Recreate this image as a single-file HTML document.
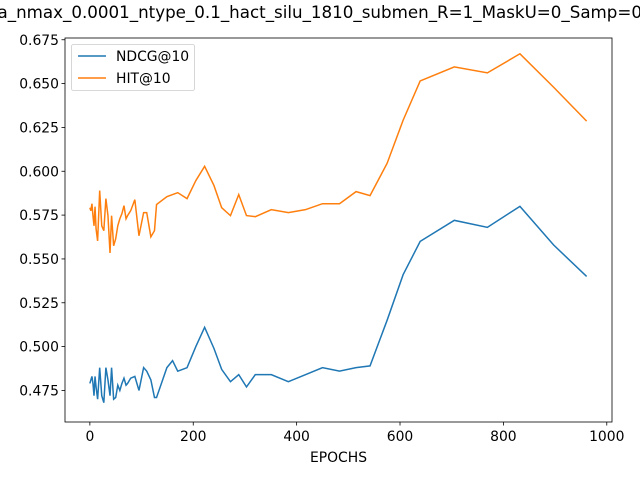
<!DOCTYPE html>
<html><head><meta charset="utf-8"><style>body{margin:0;background:#fff}svg{display:block;font-family:"DejaVu Sans","Liberation Sans",sans-serif}</style></head>
<body>
<svg id="c" width="640" height="480"></svg>
<script>
const epochs=[0,2,4,6,8,10,12,15,19,23,27,31,35,39,42,46,50,54,58,62,66,70,73,79,87,95,104,110,118,125,129,149,160,170,188,205,222,240,255,272,288,303,320,351,384,417,450,483,515,542,575,606,639,705,769,832,897,961];
const hitValues=[0.5792,0.5775,0.5815,0.5747,0.5689,0.5798,0.5672,0.5603,0.5890,0.5689,0.5661,0.5844,0.5747,0.5534,0.5747,0.5575,0.5615,0.5689,0.5729,0.5758,0.5804,0.5729,0.5747,0.5775,0.5838,0.5632,0.5764,0.5764,0.5626,0.5661,0.5810,0.5855,0.5867,0.5878,0.5844,0.5947,0.6028,0.5919,0.5792,0.5747,0.5867,0.5747,0.5741,0.5781,0.5764,0.5781,0.5815,0.5815,0.5884,0.5861,0.6045,0.6291,0.6515,0.6595,0.6561,0.6670,0.6480,0.6286];
const ndcgValues=[0.479,0.481,0.483,0.479,0.472,0.483,0.477,0.470,0.488,0.472,0.468,0.488,0.481,0.472,0.488,0.470,0.471,0.478,0.475,0.479,0.482,0.478,0.479,0.482,0.483,0.475,0.488,0.486,0.481,0.471,0.471,0.488,0.492,0.486,0.488,0.500,0.511,0.499,0.487,0.480,0.484,0.477,0.484,0.484,0.480,0.484,0.488,0.486,0.488,0.489,0.515,0.541,0.560,0.572,0.568,0.580,0.558,0.540];
const xTicks=[0,200,400,600,800,1000];
const yTicks=[0.475,0.500,0.525,0.550,0.575,0.600,0.625,0.650,0.675];
const L=65,R=612,T=38,B=422;
const xmin=-48.1,xmax=1010.1,ymin=0.457,ymax=0.676;
const X=v=>L+(v-xmin)/(xmax-xmin)*(R-L);
const Y=v=>B-(v-ymin)/(ymax-ymin)*(B-T);
const s=document.getElementById('c');const NS='http://www.w3.org/2000/svg';
function el(t,a,p){const e=document.createElementNS(NS,t);for(const k in a)e.setAttribute(k,a[k]);(p||s).appendChild(e);return e;}
let t=el('text',{x:642,y:18,'font-size':16.7,fill:'#000','text-anchor':'end'});


t.textContent='a_nmax_0.0001_ntype_0.1_hact_silu_1810_submen_R=1_MaskU=0_Samp=0';
xTicks.forEach(v=>{const g=el('g',{});


el('line',{x1:X(v),x2:X(v),y1:B,y2:B+3.5,stroke:'#000','stroke-width':0.8},g);
const tx=el('text',{x:X(v),y:B+19,'font-size':13.9,'text-anchor':'middle'},g);tx.textContent=v;});
yTicks.forEach(v=>{const g=el('g',{});


el('line',{x1:L-3.5,x2:L,y1:Y(v),y2:Y(v),stroke:'#000','stroke-width':0.8},g);
const tx=el('text',{x:L-6,y:Y(v)+5,'font-size':13.9,'text-anchor':'end'},g);tx.textContent=v.toFixed(3);});
let xl=el('text',{x:(L+R)/2,y:462,'font-size':13.9,'text-anchor':'middle'});


xl.textContent='EPOCHS';
function line(vals,col,name){const p=el('polyline',{points:epochs.map((e,i)=>X(e)+','+Y(vals[i])).join(' '),fill:'none',stroke:col,'stroke-width':1.5});

}
line(ndcgValues,'#1f77b4','ndcg-line');
line(hitValues,'#ff7f0e','hit-line');
let fr=el('rect',{x:L,y:T,width:R-L,height:B-T,fill:'none',stroke:'#000','stroke-width':0.8});


const lg=el('g',{});


el('rect',{x:71.5,y:44.5,width:123,height:46,rx:2,fill:'#fff',stroke:'#ccc','stroke-width':0.8},lg);
[['NDCG@10','#1f77b4',56],['HIT@10','#ff7f0e',78]].forEach(([n,c,y])=>{const g=el('g',{},lg);


el('line',{x1:78,x2:106,y1:y,y2:y,stroke:c,'stroke-width':1.5},g);
const tx=el('text',{x:116,y:y+5,'font-size':13.9},g);tx.textContent=n;});
</script>
</body></html>
